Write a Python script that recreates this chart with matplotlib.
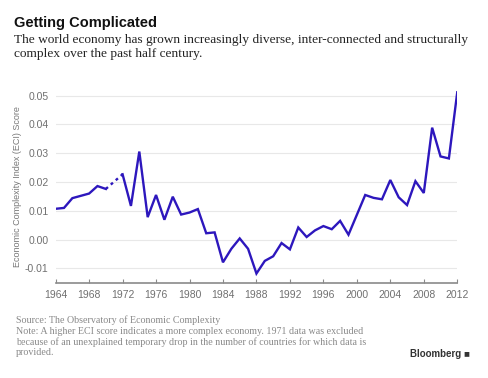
"""Bloomberg 风格折线图:世界经济复杂度指数 (ECI) 1964-2012。"""
import matplotlib
matplotlib.use("Agg")
import matplotlib.pyplot as plt

# 1964-1970 实线段,1970-1972 虚线(1971 缺失),1972-2012 实线
YEARS_EARLY = [1964, 1965, 1966, 1967, 1968, 1969, 1970]
ECI_EARLY = [0.0107, 0.0110, 0.0144, 0.0152, 0.0160, 0.0186, 0.0176]

YEARS_GAP = [1970, 1972]
ECI_GAP = [0.0176, 0.0227]

YEARS_LATE = list(range(1972, 2013))
ECI_LATE = [
    0.0227, 0.0117, 0.0306, 0.0078, 0.0155, 0.0069, 0.0149, 0.0087,
    0.0094, 0.0106, 0.0022, 0.0025, -0.0079, -0.0032, 0.0004, -0.0032,
    -0.0118, -0.0074, -0.0058, -0.0012, -0.0034, 0.0042, 0.0009, 0.0032,
    0.0047, 0.0036, 0.0065, 0.0017, 0.0086, 0.0155, 0.0145, 0.0140,
    0.0207, 0.0147, 0.0120, 0.0203, 0.0162, 0.0389, 0.0289, 0.0282,
    0.0512,
]

X_TICKS = list(range(1964, 2013, 4))
Y_TICKS = [-0.01, 0.0, 0.01, 0.02, 0.03, 0.04, 0.05]

LINE = "#2d17bd"
GRAY = "#8a8a8a"
SANS = ["Liberation Sans", "DejaVu Sans"]
SERIF = ["Liberation Serif", "DejaVu Serif"]

fig = plt.figure(figsize=(4.88, 3.78), dpi=100)
ax = fig.add_axes([0.114, 0.252, 0.823, 0.510])

ax.plot(YEARS_EARLY, ECI_EARLY, color=LINE, lw=1.7, solid_joinstyle="miter")
ax.plot(YEARS_GAP, ECI_GAP, color=LINE, lw=1.7, ls=(0, (1.2, 1.6)))
ax.plot(YEARS_LATE, ECI_LATE, color=LINE, lw=1.7, solid_joinstyle="miter")

ax.set_xlim(1964, 2012)
ax.set_ylim(-0.015, 0.052)
ax.set_xticks(X_TICKS)
ax.set_xticklabels([str(y) for y in X_TICKS])
ax.set_yticks(Y_TICKS)
ax.set_yticklabels([f"{v:.2f}" for v in Y_TICKS])

ax.grid(axis="y", color="#e8e8e8", lw=0.8)
ax.set_axisbelow(True)
for side in ("left", "right", "top"):
    ax.spines[side].set_visible(False)
ax.spines["bottom"].set_color(GRAY)
ax.spines["bottom"].set_linewidth(1.2)
ax.tick_params(axis="x", direction="in", length=3, color=GRAY, labelsize=7.5,
               labelcolor="#707070", pad=5)
ax.tick_params(axis="y", length=0, labelsize=7.5, labelcolor="#707070", pad=5)
for lab in ax.get_xticklabels() + ax.get_yticklabels():
    lab.set_family(SANS)

ax.set_ylabel("Economic Complexity Index (ECI) Score", fontsize=6.5,
              color="#777777", family=SANS, labelpad=2)

fig.text(0.029, 0.940, "Getting Complicated", fontsize=10.5, weight="bold",
         family=SANS, color="#111111", va="center")
fig.text(0.029, 0.876,
         "The world economy has grown increasingly diverse, inter-connected and structurally\n"
         "complex over the past half century.",
         fontsize=9.6, family=SERIF, color="#222222", va="center", linespacing=1.3)

fig.text(0.033, 0.110,
         "Source: The Observatory of Economic Complexity\n"
         "Note: A higher ECI score indicates a more complex economy. 1971 data was excluded\n"
         "because of an unexplained temporary drop in the number of countries for which data is\n"
         "provided.",
         fontsize=7.2, family=SERIF, color="#888888", va="center", linespacing=1.2)
fig.text(0.962, 0.063, "Bloomberg \u25a0", fontsize=7, weight="bold",
         family=SANS, color="#333333", ha="right", va="center")

fig.savefig("out.png", dpi=100, facecolor="white")
